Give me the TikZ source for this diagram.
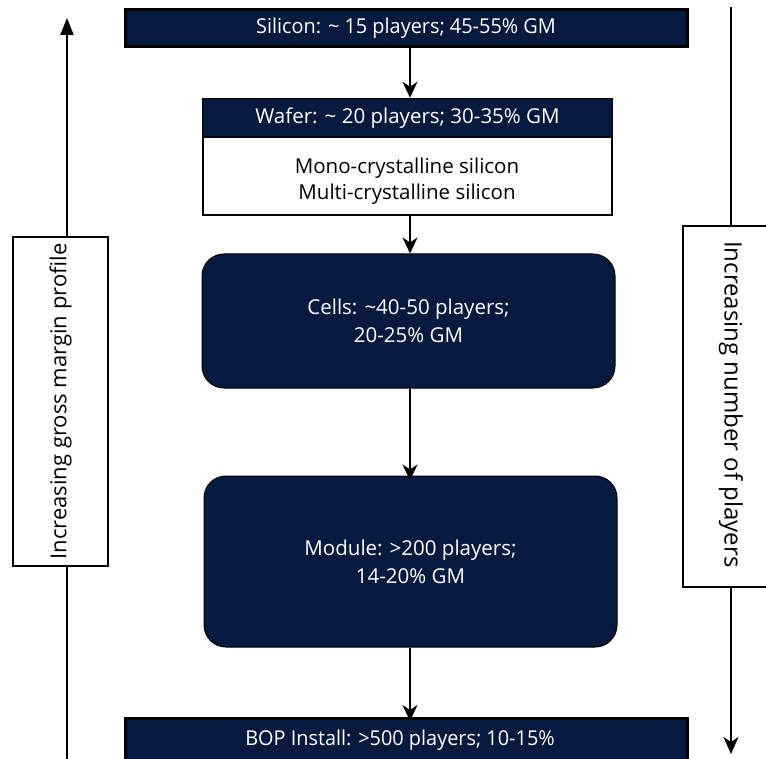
\documentclass[tikz,border=0pt]{standalone}
\usepackage{fontspec}
\setmainfont{Open Sans}
\newfontfamily\narrowfont[FakeStretch=0.97]{Open Sans}
\usetikzlibrary{arrows.meta}
\definecolor{navy}{RGB}{6,25,62}
\begin{document}
\begin{tikzpicture}[x=1pt,y=-1pt,
  darkbar/.style={draw=black,line width=3pt,fill=navy,text=white,inner sep=0pt,font=\narrowfont\fontsize{20.5}{24}\selectfont},
  roundbox/.style={draw=black,line width=1pt,fill=navy,rounded corners=22pt,text=white,inner sep=0pt,align=center,font=\fontsize{20.5}{28}\selectfont},
  sidebox/.style={draw=black,line width=1.3pt,fill=white,inner sep=0pt},
  sidetext/.style={font=\fontsize{22}{26}\selectfont},
  conn/.style={line width=2.1pt,-{Stealth[length=16pt,width=15pt,inset=5pt]}},
  sidearrow/.style={line width=2.1pt}]
\useasboundingbox (0,0) rectangle (766,759);
\begin{scope}
\clip (0,0) rectangle (766,759);
% side arrows
\coordinate (ltop) at (67,18);
\coordinate (lbot) at (67,765);
\coordinate (rtop) at (731,7);
\coordinate (rbot) at (731,754);
\draw[sidearrow,-{Triangle[length=17pt,width=13pt]}] (lbot) -- (ltop);
\draw[sidearrow,-{Stealth[length=17pt,width=15pt,inset=5pt]}] (rtop) -- (rbot);
\node[sidebox,minimum width=95,minimum height=329] (lbox) at (60.5,401.5) {};
\node[sidetext,rotate=90] (ltext) at (lbox.center) {Increasing gross margin profile};
\node[sidebox,minimum width=96,minimum height=361] (rbox) at (731,406.5) {};
\node[sidetext,rotate=-90,font=\fontsize{24}{28}\selectfont] (rtext) at ([yshift=2pt]rbox.center) {Increasing number of players};

% main chain
\node[darkbar,minimum width=562,minimum height=37] (silicon) at (406,28.5) {Silicon: \textasciitilde{} 15 players; 45-55\% GM};
\node[draw=black,line width=2.5pt,fill=white,minimum width=409,minimum height=116,inner sep=0pt] (wafer) at (407.5,157) {};
\fill[navy] ([xshift=1.25pt,yshift=-1.25pt]wafer.north west) rectangle ([xshift=-1.25pt]wafer.east |- 0,137);
\draw[line width=2.5pt] (wafer.west |- 0,137) -- (wafer.east |- 0,137);
\node[text=white,font=\fontsize{20.5}{24}\selectfont] (wafertitle) at (407.5,118) {Wafer: \textasciitilde{} 20 players; 30-35\% GM};
\node[align=center,font=\fontsize{20.5}{25.5}\selectfont] (wafertext) at (407,181) {Mono-crystalline silicon\\Multi-crystalline silicon};
\node[roundbox,minimum width=413,minimum height=134] (cells) at (408.5,321) {Cells: \textasciitilde40-50 players;\\20-25\% GM};
\node[roundbox,minimum width=413,minimum height=171] (module) at (410.5,561.5) {Module: >200 players;\\14-20\% GM};
\node[darkbar,minimum width=562,minimum height=56,anchor=north] (bop) at (406,717) {};
\node[text=white,font=\narrowfont\fontsize{20.5}{24}\selectfont] (boptext) at (400,740) {BOP Install: >500 players; 10-15\%};

\draw[conn] (silicon.south -| 410,0) -- (wafer.north -| 410,0);
\draw[conn] (wafer.south -| 410,0) -- (cells.north -| 410,0);
\draw[conn] (cells.south -| 410,0) -- ([yshift=-5pt]module.north -| 410,0);
\draw[conn] (module.south -| 410,0) -- ([yshift=-4pt]bop.north -| 410,0);
\end{scope}
\end{tikzpicture}
\end{document}
